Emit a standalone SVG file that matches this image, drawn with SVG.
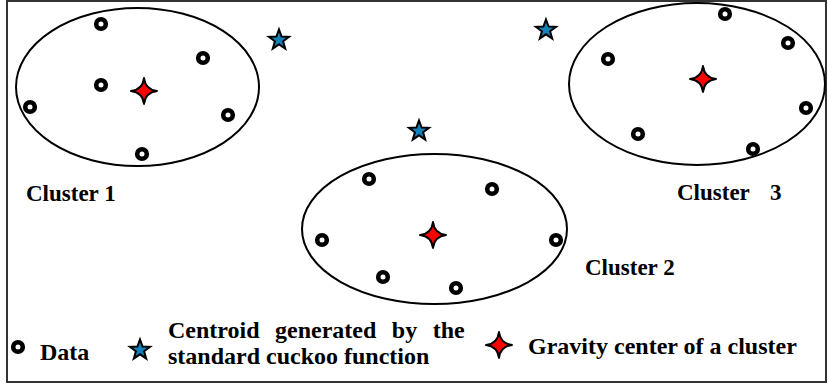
<svg xmlns="http://www.w3.org/2000/svg" width="828" height="385" viewBox="0 0 828 385">
<defs>
<style>
.frame{fill:#fff;stroke:#333;stroke-width:2}
.ell{fill:none;stroke:#000;stroke-width:2}
.lbl{font-family:"Liberation Serif","Times New Roman",serif;font-weight:bold;font-size:23px;fill:#000}
.leg{font-family:"Liberation Serif","Times New Roman",serif;font-weight:bold;font-size:24px;fill:#000}
</style>
<circle id="dot" r="4.8" fill="#fff" stroke="#000" stroke-width="4.6"/>
<path id="bstar" d="M0,-10.5 L2.6,-3.4 10,-3.2 4.1,1.3 6.2,8.5 0,4.3 -6.2,8.5 -4.1,1.3 -10,-3.2 -2.6,-3.4 Z" fill="#1380b8" stroke="#000" stroke-width="2" stroke-linejoin="miter"/>
<path id="rstar" d="M0,-13 Q1.4,-1.4 13,0 Q1.4,1.4 0,13 Q-1.4,1.4 -13,0 Q-1.4,-1.4 0,-13 Z" fill="#f00" stroke="#000" stroke-width="2" stroke-linejoin="round"/>
</defs>
<rect class="frame" x="7" y="1" width="819" height="381"/>
<g id="connectors"></g>
<g id="cluster1">
<ellipse class="ell" cx="137.5" cy="87" rx="121.5" ry="79"/>
<use href="#dot" x="101" y="24"/>
<use href="#dot" x="203" y="58"/>
<use href="#dot" x="101" y="85"/>
<use href="#dot" x="30" y="107"/>
<use href="#dot" x="228" y="115"/>
<use href="#dot" x="142" y="154"/>
<use href="#rstar" x="144" y="91"/>
<text class="lbl" x="26" y="201">Cluster 1</text>
</g>
<g id="cluster2">
<ellipse class="ell" cx="434.5" cy="229" rx="132.5" ry="75"/>
<use href="#dot" x="369" y="179"/>
<use href="#dot" x="492" y="189"/>
<use href="#dot" x="322" y="240"/>
<use href="#dot" x="556" y="240"/>
<use href="#dot" x="383" y="277"/>
<use href="#dot" x="456" y="288"/>
<use href="#rstar" x="433" y="235"/>
<text class="lbl" x="585" y="275">Cluster 2</text>
</g>
<g id="cluster3">
<ellipse class="ell" cx="697" cy="84" rx="128" ry="81"/>
<use href="#dot" x="725" y="14"/>
<use href="#dot" x="788" y="43"/>
<use href="#dot" x="608" y="59"/>
<use href="#dot" x="806" y="108"/>
<use href="#dot" x="638" y="134"/>
<use href="#dot" x="753" y="149"/>
<use href="#rstar" x="703" y="79"/>
<text class="lbl" x="677" y="200">Cluster<tspan x="770">3</tspan></text>
</g>
<g id="centroids">
<use href="#bstar" x="279" y="40"/>
<use href="#bstar" x="546" y="30"/>
<use href="#bstar" x="419" y="131"/>
</g>
<g id="legend">
<use href="#dot" x="18" y="347"/>
<text class="leg" x="40" y="360">Data</text>
<use href="#bstar" x="140" y="350"/>
<text class="leg" x="168" y="338" word-spacing="9.5">Centroid generated by the</text>
<text class="leg" x="168" y="364">standard cuckoo function</text>
<use href="#rstar" x="499" y="345"/>
<text class="leg" x="528" y="354">Gravity center of a cluster</text>
</g>
</svg>
